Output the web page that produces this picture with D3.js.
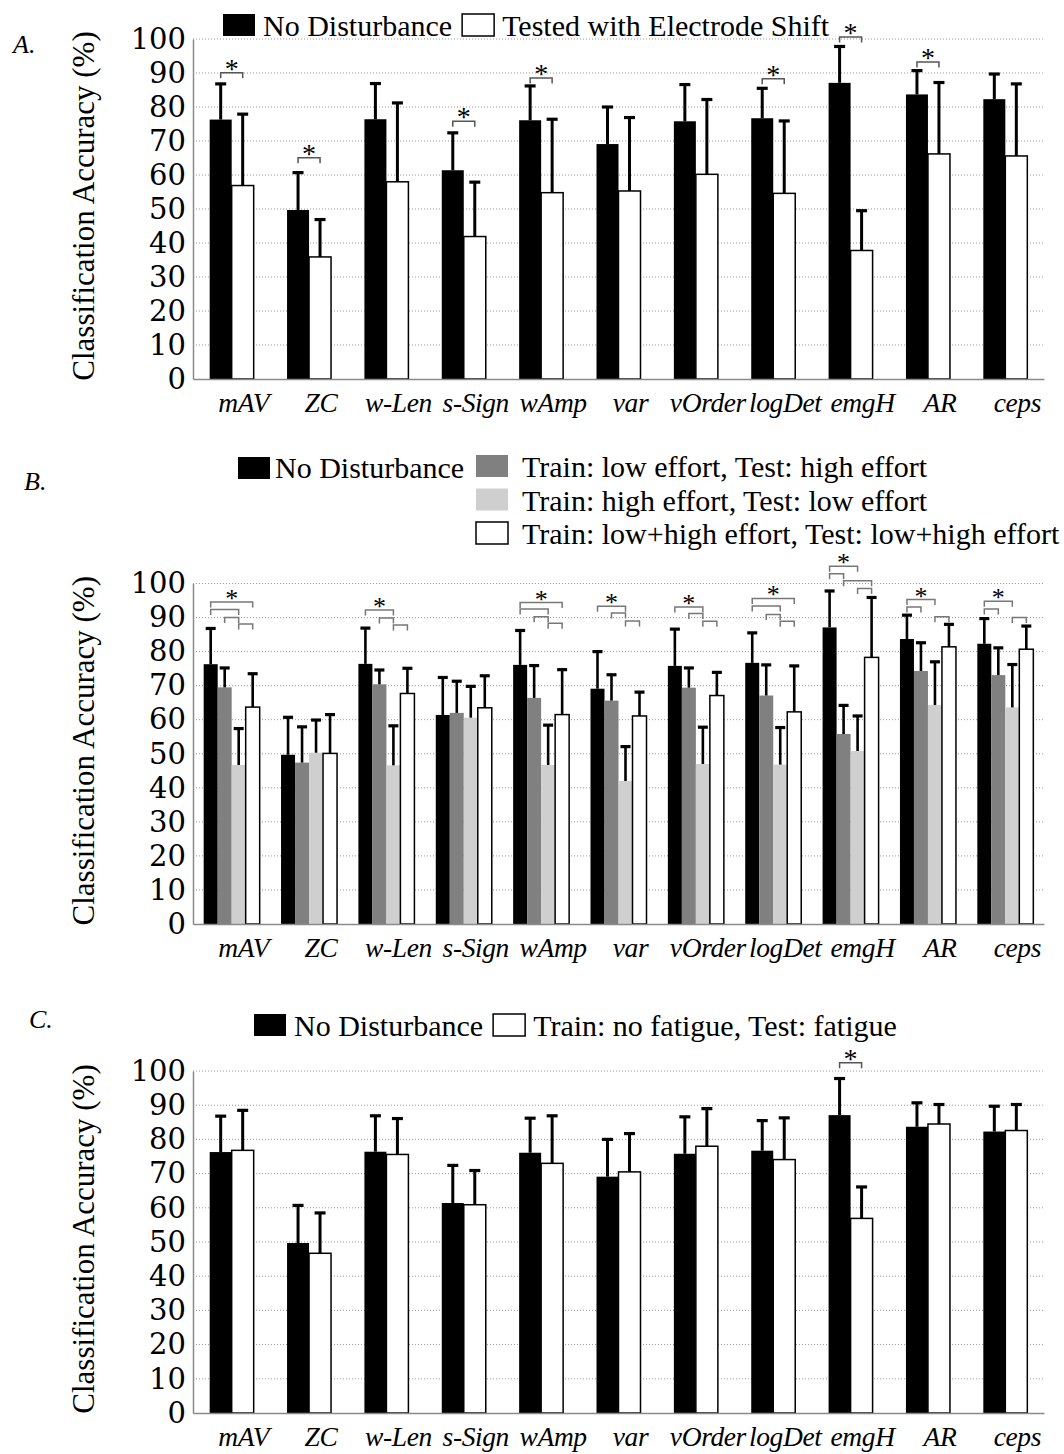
<!DOCTYPE html>
<html>
<head>
<meta charset="utf-8">
<script src="https://cdn.jsdelivr.net/npm/d3@7"></script>
<style>
  body { margin: 0; background: #fff; }
</style>
</head>
<body>
<svg id="fig" width="1064" height="1454"></svg>
<script>
// --- Data ---
const features = ["mAV", "ZC", "w-Len", "s-Sign", "wAmp", "var", "vOrder", "logDet", "emgH", "AR", "ceps"];
const yTicks = [0, 10, 20, 30, 40, 50, 60, 70, 80, 90, 100];

// reference condition, identical in all three panels
const noDistMean = [76.3, 49.7, 76.4, 61.4, 76.1, 69.1, 75.8, 76.7, 87.1, 83.7, 82.3];
const noDistSD = [10.5, 11.0, 10.5, 11.0, 10.1, 10.9, 10.8, 8.8, 10.7, 7.0, 7.4];

// A. electrode shift
const shiftMean = [56.9, 35.9, 58.0, 41.9, 54.8, 55.3, 60.2, 54.6, 37.8, 66.2, 65.6];
const shiftSD = [21.0, 11.0, 23.2, 16.0, 21.6, 21.6, 22.0, 21.3, 11.7, 21.0, 21.2];
// [feature, from series, to series, bracket level (%), star]
const shiftSig = [
  ["mAV", 0, 1, 90.1, true], ["ZC", 0, 1, 65.1, true], ["s-Sign", 0, 1, 75.8, true],
  ["wAmp", 0, 1, 88.5, true], ["logDet", 0, 1, 88.3, true], ["emgH", 0, 1, 100.6, true],
  ["AR", 0, 1, 93.2, true]
];

// B. effort level
const lowHighMean = [69.5, 47.4, 70.4, 62.0, 66.4, 65.6, 69.4, 67.1, 55.8, 74.3, 73.1];
const lowHighSD = [5.7, 10.5, 4.2, 9.3, 9.5, 7.6, 5.8, 9.0, 8.4, 8.3, 8.0];
const highLowMean = [46.7, 50.3, 46.6, 60.6, 46.7, 42.0, 47.0, 46.8, 50.8, 64.3, 63.6];
const highLowSD = [10.7, 9.6, 11.6, 9.2, 11.7, 10.1, 10.8, 10.9, 10.3, 12.7, 12.6];
const bothMean = [63.7, 50.1, 67.7, 63.5, 61.5, 61.1, 67.1, 62.3, 78.3, 81.4, 80.7];
const bothSD = [9.8, 11.4, 7.4, 9.4, 13.2, 7.0, 6.8, 13.5, 17.6, 6.6, 6.8];
const effortSig = [
  ["mAV", 0, 3, 94.6, true], ["mAV", 0, 2, 92.4], ["mAV", 1, 2, 90.0], ["mAV", 2, 3, 88.1],
  ["w-Len", 0, 2, 92.2, true], ["w-Len", 1, 2, 89.9], ["w-Len", 2, 3, 87.8],
  ["wAmp", 0, 3, 94.4, true], ["wAmp", 0, 2, 92.5], ["wAmp", 1, 2, 90.2], ["wAmp", 2, 3, 88.3],
  ["var", 0, 2, 93.3, true], ["var", 1, 2, 91.3], ["var", 2, 3, 89.0],
  ["vOrder", 0, 2, 93.1, true], ["vOrder", 1, 2, 91.2], ["vOrder", 2, 3, 88.9],
  ["logDet", 0, 3, 95.6, true], ["logDet", 0, 2, 93.4], ["logDet", 1, 2, 90.9], ["logDet", 2, 3, 88.9],
  ["emgH", 0, 2, 105.1, true], ["emgH", 0, 1, 102.9], ["emgH", 1, 3, 100.8], ["emgH", 2, 3, 98.5],
  ["AR", 0, 2, 95.3, true], ["AR", 0, 1, 93.1], ["AR", 2, 3, 90.2],
  ["ceps", 0, 2, 94.8, true], ["ceps", 0, 1, 92.5], ["ceps", 2, 3, 90.0]
];

// C. fatigue
const fatigueMean = [76.8, 46.7, 75.6, 60.9, 73.0, 70.5, 78.0, 74.1, 56.9, 84.5, 82.6];
const fatigueSD = [11.7, 11.8, 10.5, 10.0, 13.9, 11.2, 11.0, 12.2, 9.2, 5.7, 7.6];
const fatigueSig = [["emgH", 0, 1, 102.4, true]];

// --- Setup ---
const SERIF = "'Liberation Serif', 'Times New Roman', serif";
const X0 = 193;
const X1 = 1044;

const svg = d3.select("#fig");
const x = d3.scaleBand().domain(features).range([X0, X1]);

const NO_DIST = { label: "No Disturbance", mean: noDistMean, sd: noDistSD, fill: "#000" };

function drawPanel({ top, bottom, series, barW, capW, stemW, sig, bracketColor, starSize }) {
  const y = d3.scaleLinear().domain([0, 100]).range([bottom, top]);
  const g = svg.append("g");

  // dotted gridlines
  g.append("g")
    .selectAll("line")
    .data(yTicks.slice(1))
    .join("line")
    .attr("x1", X0)
    .attr("x2", X1)
    .attr("y1", (d) => y(d))
    .attr("y2", (d) => y(d))
    .attr("stroke", "#9a9a9a")
    .attr("stroke-width", 1)
    .attr("stroke-dasharray", "1,2");

  // bars sit side by side inside each feature band
  const n = series.length;
  const sub = d3.scaleBand().domain(d3.range(n)).range([-n * barW / 2, n * barW / 2]);
  const cx = (f, i) => x(f) + x.bandwidth() / 2 + sub(i) + barW / 2;

  series.forEach((s, i) => {
    const rows = features.map((f, k) => ({ f, m: s.mean[k], sd: s.sd[k] }));
    const sg = g.append("g");
    sg.selectAll("rect")
      .data(rows)
      .join("rect")
      .attr("x", (d) => cx(d.f, i) - barW / 2)
      .attr("width", barW)
      .attr("y", (d) => y(d.m))
      .attr("height", (d) => y(0) - y(d.m))
      .attr("fill", s.fill)
      .attr("stroke", s.fill === "#fff" ? "#000" : "none")
      .attr("stroke-width", 1.5);

    // error bars (upper half only)
    sg.selectAll("line.stem")
      .data(rows)
      .join("line")
      .attr("class", "stem")
      .attr("x1", (d) => cx(d.f, i))
      .attr("x2", (d) => cx(d.f, i))
      .attr("y1", (d) => y(d.m))
      .attr("y2", (d) => y(d.m + d.sd))
      .attr("stroke", "#000")
      .attr("stroke-width", stemW);
    sg.selectAll("line.cap")
      .data(rows)
      .join("line")
      .attr("class", "cap")
      .attr("x1", (d) => cx(d.f, i) - capW / 2)
      .attr("x2", (d) => cx(d.f, i) + capW / 2)
      .attr("y1", (d) => y(d.m + d.sd))
      .attr("y2", (d) => y(d.m + d.sd))
      .attr("stroke", "#000")
      .attr("stroke-width", 3.2);
  });

  // axes
  const ya = g.append("g")
    .attr("transform", `translate(${X0},0)`)
    .call(d3.axisLeft(y).tickValues(yTicks).tickSize(0).tickPadding(7));
  ya.select(".domain").attr("stroke", "#8a8a8a").attr("stroke-width", 1.5);
  ya.selectAll("text")
    .attr("font-family", "'DejaVu Serif', serif")
    .attr("font-size", 29)
    .attr("fill", "#000");

  const xa = g.append("g")
    .attr("transform", `translate(0,${bottom})`)
    .call(d3.axisBottom(x).tickSize(0));
  xa.select(".domain").attr("stroke", "#8a8a8a").attr("stroke-width", 1.5);
  xa.selectAll("text")
    .attr("y", 33)
    .attr("dy", null)
    .attr("dx", 12)
    .attr("font-family", SERIF)
    .attr("font-style", "italic")
    .attr("font-size", 27.5)
    .attr("letter-spacing", -0.4)
    .attr("fill", "#000");

  // y title
  g.append("text")
    .attr("transform", `translate(94,${(top + bottom) / 2 - 3}) rotate(-90)`)
    .attr("text-anchor", "middle")
    .attr("font-family", SERIF)
    .attr("font-size", 31)
    .text("Classification Accuracy (%)");

  // significance brackets
  const leg = 5.5;
  const bg = g.append("g");
  bg.selectAll("path")
    .data(sig)
    .join("path")
    .attr("d", ([f, a, b, lv]) => {
      const yy = y(lv);
      return `M${cx(f, a)},${yy + leg}V${yy}H${cx(f, b)}V${yy + leg}`;
    })
    .attr("fill", "none")
    .attr("stroke", bracketColor)
    .attr("stroke-width", 1.5);
  bg.selectAll("text")
    .data(sig.filter((d) => d[4]))
    .join("text")
    .attr("x", ([f, a, b]) => (cx(f, a) + cx(f, b)) / 2)
    .attr("y", ([, , , lv]) => y(lv) + 5)
    .attr("text-anchor", "middle")
    .attr("font-family", SERIF)
    .attr("font-size", starSize)
    .text("*");

  return g;
}

function swatch(x0, y0, fill) {
  svg.append("rect")
    .attr("x", x0)
    .attr("y", y0)
    .attr("width", 32)
    .attr("height", 22)
    .attr("fill", fill)
    .attr("stroke", fill === "#fff" ? "#000" : "none")
    .attr("stroke-width", 1.5);
}

function legendText(x0, y0, label) {
  return svg.append("text")
    .attr("x", x0)
    .attr("y", y0)
    .attr("font-family", SERIF)
    .attr("font-size", 30)
    .text(label);
}

// horizontal legend row: swatch, label, swatch, label...
function legendRow(items, x0, baseline) {
  let cur = x0;
  items.forEach((s) => {
    swatch(cur, baseline - 22, s.fill);
    const t = legendText(cur + 40, baseline, s.label);
    cur = cur + 40 + t.node().getComputedTextLength() + 10;
  });
}

function panelLetter(x0, y0, letter) {
  svg.append("text")
    .attr("x", x0)
    .attr("y", y0)
    .attr("font-family", SERIF)
    .attr("font-style", "italic")
    .attr("font-size", 26)
    .text(letter);
}

// --- Panel A ---
const shiftSeries = [NO_DIST, { label: "Tested with Electrode Shift", mean: shiftMean, sd: shiftSD, fill: "#fff" }];
drawPanel({ top: 39, bottom: 379, series: shiftSeries, barW: 22, capW: 11, stemW: 3, sig: shiftSig, bracketColor: "#555", starSize: 28 });
legendRow(shiftSeries, 223, 36);
panelLetter(13, 53, "A.");

// --- Panel B ---
const effortSeries = [
  NO_DIST,
  { label: "Train: low effort, Test: high effort", mean: lowHighMean, sd: lowHighSD, fill: "#808080" },
  { label: "Train: high effort, Test: low effort", mean: highLowMean, sd: highLowSD, fill: "#cfcfcf" },
  { label: "Train: low+high effort, Test: low+high effort", mean: bothMean, sd: bothSD, fill: "#fff" }
];
drawPanel({ top: 583.5, bottom: 924, series: effortSeries, barW: 14, capW: 10, stemW: 2.6, sig: effortSig, bracketColor: "#777", starSize: 26 });
swatch(238, 457, effortSeries[0].fill);
legendText(275, 478, effortSeries[0].label);
effortSeries.slice(1).forEach((s, i) => {
  const base = 477 + i * 33.5;
  swatch(476, base - 22, s.fill);
  legendText(522, base, s.label);
});
panelLetter(24, 490, "B.");

// --- Panel C ---
const fatigueSeries = [NO_DIST, { label: "Train: no fatigue, Test: fatigue", mean: fatigueMean, sd: fatigueSD, fill: "#fff" }];
drawPanel({ top: 1071, bottom: 1413, series: fatigueSeries, barW: 22, capW: 11, stemW: 3, sig: fatigueSig, bracketColor: "#555", starSize: 28 });
legendRow(fatigueSeries, 254, 1036);
panelLetter(29, 1028, "C.");
</script>
</body>
</html>
